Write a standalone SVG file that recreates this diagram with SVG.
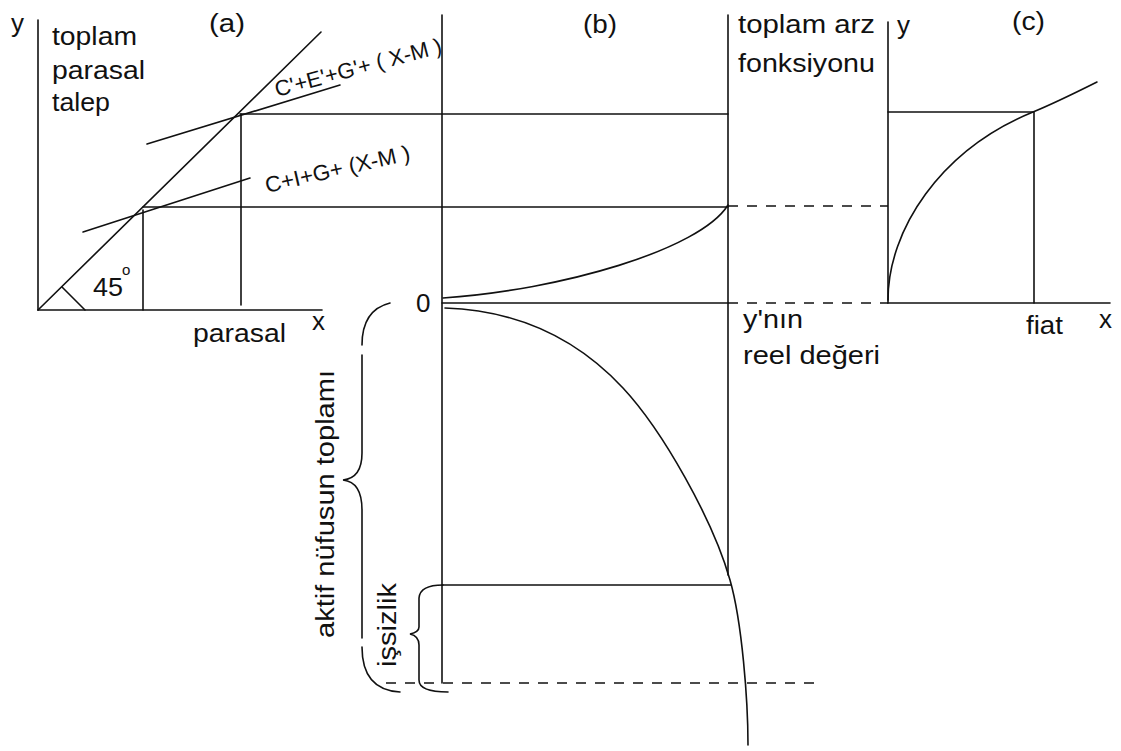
<svg xmlns="http://www.w3.org/2000/svg" width="1121" height="751" viewBox="0 0 1121 751">
<style>
.ln{stroke:#111;stroke-width:1.6;fill:none;stroke-linecap:round}
.ds{stroke:#111;stroke-width:1.6;fill:none;stroke-dasharray:10 9}
text{font-family:"Liberation Sans",Arial,Helvetica,sans-serif;font-size:26px;fill:#111}
.sm{font-size:22px}
</style>
<rect width="1121" height="751" fill="#fff"/>
<g id="panel-a">
<line class="ln" x1="38" y1="20" x2="38" y2="310"/>
<line class="ln" x1="38" y1="310" x2="322" y2="310"/>
<line class="ln" x1="38" y1="310" x2="321" y2="32"/>
<line class="ln" x1="147" y1="144" x2="340" y2="85"/>
<line class="ln" x1="83" y1="232" x2="250" y2="178"/>
<line class="ln" x1="143" y1="210" x2="143" y2="310"/>
<line class="ln" x1="241" y1="114" x2="241" y2="305"/>
<line class="ln" x1="62" y1="287" x2="85" y2="310"/>
<text x="11" y="32">y</text>
<text x="52" y="45" textLength="85" lengthAdjust="spacingAndGlyphs">toplam</text>
<text x="52" y="79" textLength="93" lengthAdjust="spacingAndGlyphs">parasal</text>
<text x="52" y="111" textLength="58" lengthAdjust="spacingAndGlyphs">talep</text>
<text x="209" y="32" textLength="36" lengthAdjust="spacingAndGlyphs">(a)</text>
<text x="93" y="296" textLength="30" lengthAdjust="spacingAndGlyphs">45</text>
<text x="122" y="275" style="font-size:15px">o</text>
<text x="312" y="330">x</text>
<text x="193" y="342" textLength="93" lengthAdjust="spacingAndGlyphs">parasal</text>
<text class="sm" transform="translate(277,97) rotate(-15)" textLength="172" lengthAdjust="spacingAndGlyphs">C'+E'+G'+ ( X-M )</text>
<text class="sm" transform="translate(267,193) rotate(-13)" textLength="148" lengthAdjust="spacingAndGlyphs">C+I+G+ (X-M )</text>
</g>
<g id="panel-b">
<line class="ln" x1="442" y1="15" x2="442" y2="683"/>
<line class="ln" x1="728" y1="15" x2="728" y2="575"/>
<line class="ln" x1="442" y1="303" x2="728" y2="303"/>
<path class="ln" d="M443,298 C560,290 700,250 728,205"/>
<path class="ln" d="M445,308 C505,310 568,329 623,388 C663,431 713,520 730,580 C742,622 748,700 748,745"/>
<text x="416" y="312">0</text>
<text x="583" y="33" textLength="34" lengthAdjust="spacingAndGlyphs">(b)</text>
<text x="738" y="33" textLength="137" lengthAdjust="spacingAndGlyphs">toplam arz</text>
<text x="738" y="72" textLength="137" lengthAdjust="spacingAndGlyphs">fonksiyonu</text>
<text x="743" y="328" textLength="60" lengthAdjust="spacingAndGlyphs">y'nın</text>
<text x="743" y="364" textLength="137" lengthAdjust="spacingAndGlyphs">reel değeri</text>
</g>
<g id="panel-c">
<line class="ln" x1="888" y1="22" x2="888" y2="303"/>
<line class="ln" x1="888" y1="303" x2="1110" y2="303"/>
<line class="ln" x1="888" y1="112" x2="1033" y2="112"/>
<line class="ln" x1="1034" y1="112" x2="1034" y2="303"/>
<path class="ln" d="M888,300 C888,230 940,150 1033,112 C1055,103 1077,92 1097,82"/>
<text x="897" y="34">y</text>
<text x="1012" y="30" textLength="33" lengthAdjust="spacingAndGlyphs">(c)</text>
<text x="1026" y="334" textLength="37" lengthAdjust="spacingAndGlyphs">fiat</text>
<text x="1099" y="328">x</text>
</g>
<g id="brace-aktif">
<path class="ln" d="M390,303 Q362,310 362,345 M362,355 L362,453 Q362,478 343,480 Q362,482 362,510 L362,638 M362,647 Q362,690 400,692"/>
<text transform="translate(334,638) rotate(-90)" textLength="268" lengthAdjust="spacingAndGlyphs">aktif nüfusun toplamı</text>
</g>
<g id="brace-issizlik">
<path class="ln" d="M443,585 Q420,585 419,598 L419,627 Q419,632 410,634 Q419,636 419,645 L419,680 Q419,692 448,692"/>
<text transform="translate(396,667) rotate(-90)" textLength="84" lengthAdjust="spacingAndGlyphs">işsizlik</text>
</g>
<g id="connectors">
<line class="ln" x1="240" y1="114" x2="728" y2="114"/>
<line class="ln" x1="143" y1="207" x2="728" y2="207"/>
<line class="ln" x1="442" y1="585" x2="731" y2="585"/>
<line class="ds" x1="728" y1="206" x2="888" y2="206"/>
<line class="ds" x1="728" y1="303" x2="888" y2="303"/>
<line class="ds" x1="386" y1="683" x2="822" y2="683"/>
</g>
</svg>
